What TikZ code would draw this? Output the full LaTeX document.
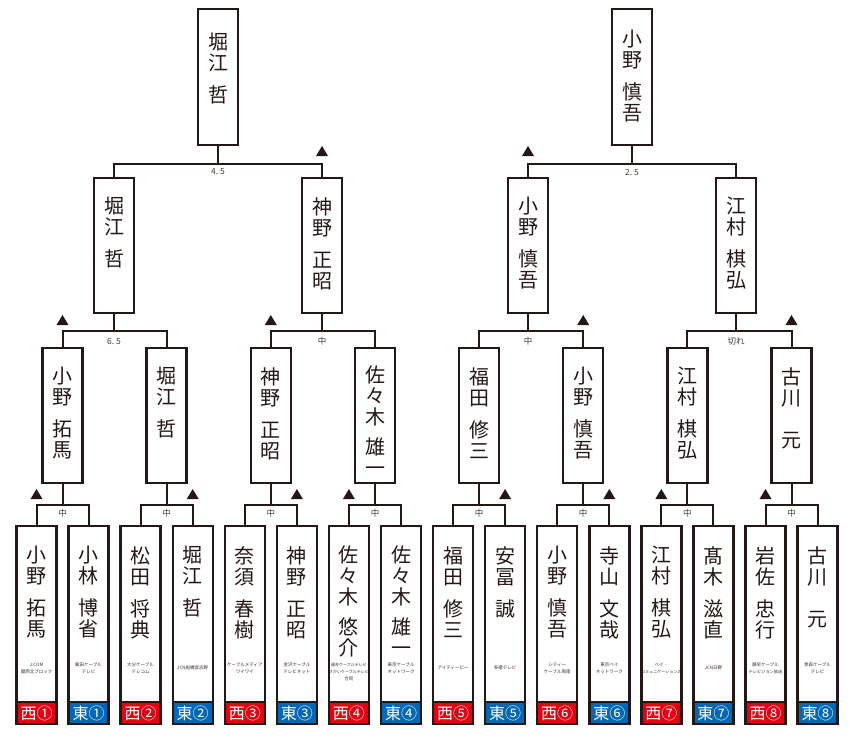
\documentclass[tikz,border=0pt]{standalone}
\usepackage{fontspec}
\setmainfont{Noto Sans CJK JP}
\definecolor{ink}{HTML}{231815}
\definecolor{wred}{HTML}{E60012}
\definecolor{eblue}{HTML}{0068B7}
\newcommand\lbox[6]{%
  \node[nbox, minimum height=#4pt] (#1) at (#2,#3) {};
  \node[nm] (#1n) at ([yshift=-#6pt]#1.north) {#5};
}
\newcommand\bbox[7]{%
  \node[nbox, minimum height=198pt] (#1) at (#2,525) {};
  \node[#5, anchor=south] (#1b) at (#1.south) {#6};
  \node[nm] (#1n) at ([yshift=-21pt]#1.north) {#3};
  \node[aff] (#1a) at (#2,#7) {#4};
}
\newcommand\tri[2]{\fill[ink] (#1-6,#2) -- (#1+6,#2) -- (#1,#2-10) -- cycle;}
\begin{document}
\begin{tikzpicture}[x=1pt,y=-1pt,
  ln/.style={draw=ink, line width=2pt},
  nbox/.style={draw=ink, line width=2.4pt, fill=white, minimum width=40pt, inner sep=0pt, anchor=north},
  nm/.style={font=\fontsize{20}{21}\selectfont, align=center, inner sep=0pt, anchor=north, text=ink},
  res/.style={font=\fontsize{8.5}{9}\selectfont, text=ink!85, inner sep=0pt},
  aff/.style={font=\fontsize{4.5}{7}\selectfont, align=center, inner sep=0pt, text=ink!90},
  westb/.style={fill=wred, draw=ink, line width=2.4pt, minimum width=40pt, minimum height=22pt, inner sep=0pt, text=white, font=\fontsize{16}{16}\selectfont},
  eastb/.style={westb, fill=eblue}
]
\useasboundingbox (0,0) rectangle (850,740);
\fill[white] (0,0) rectangle (850,740);

% ---- top level
\lbox{T1}{218}{8}{136}{堀\\江\\[11pt]哲}{25}
\lbox{T2}{632}{8}{136}{小\\野\\[11pt]慎\\吾}{22}

% ---- level 2
\lbox{A1}{114}{177}{135}{堀\\江\\[11pt]哲}{20}
\lbox{A2}{322}{177}{135}{神\\野\\[11pt]正\\昭}{20}
\lbox{A3}{528}{177}{135}{小\\野\\[11pt]慎\\吾}{20}
\lbox{A4}{736}{177}{135}{江\\村\\[11pt]棋\\弘}{20}

% ---- level 3
\lbox{B1}{62.5}{347}{135}{小\\野\\[11pt]拓\\馬}{20}
\lbox{B2}{166.6}{347}{135}{堀\\江\\[11pt]哲}{20}
\lbox{B3}{270.8}{347}{135}{神\\野\\[11pt]正\\昭}{20}
\lbox{B4}{375}{347}{135}{佐\\々\\木\\[9pt]雄\\一}{19}
\lbox{B5}{479.1}{347}{135}{福\\田\\[11pt]修\\三}{20}
\lbox{B6}{583.2}{347}{135}{小\\野\\[11pt]慎\\吾}{20}
\lbox{B7}{687.4}{347}{135}{江\\村\\[11pt]棋\\弘}{20}
\lbox{B8}{791.5}{347}{135}{古\\川\\[21.5pt]元}{20}

% ---- bottom level
\bbox{C1}{36.5}{小\\野\\[11pt]拓\\馬}{J:COM\\関西北ブロック}{westb}{西①}{668}
\bbox{C2}{88.6}{小\\林\\[11pt]博\\省}{飯田ケーブル\\テレビ}{eastb}{東①}{668}
\bbox{C3}{140.6}{松\\田\\[11pt]将\\典}{大分ケーブル\\テレコム}{westb}{西②}{668}
\bbox{C4}{192.7}{堀\\江\\[11pt]哲}{JCN船橋習志野}{eastb}{東②}{668}
\bbox{C5}{244.8}{奈\\須\\[11pt]春\\樹}{ケーブルメディア\\ワイワイ}{westb}{西③}{668}
\bbox{C6}{296.9}{神\\野\\[11pt]正\\昭}{金沢ケーブル\\テレビネット}{eastb}{東③}{668}
\bbox{C7}{348.9}{佐\\々\\木\\[9pt]悠\\介}{{\fontsize{4}{7}\selectfont 福井ケーブルテレビ}\\{\fontsize{4}{7}\selectfont さかいケーブルテレビ}\\合同}{westb}{西④}{672}
\bbox{C8}{401.0}{佐\\々\\木\\[9pt]雄\\一}{東京ケーブル\\ネットワーク}{eastb}{東④}{668}
\bbox{C9}{453.1}{福\\田\\[11pt]修\\三}{アイティービー}{westb}{西⑤}{668}
\bbox{C10}{505.1}{安\\冨\\[11pt]誠}{多摩テレビ}{eastb}{東⑤}{668}
\bbox{C11}{557.2}{小\\野\\[11pt]慎\\吾}{シティー\\ケーブル周南}{westb}{西⑥}{668}
\bbox{C12}{609.3}{寺\\山\\[11pt]文\\哉}{東京ベイ\\ネットワーク}{eastb}{東⑥}{668}
\bbox{C13}{661.3}{江\\村\\[11pt]棋\\弘}{ベイ・\\{\fontsize{4}{7}\selectfont コミュニケーションズ}}{westb}{西⑦}{668}
\bbox{C14}{713.4}{髙\\木\\[11pt]滋\\直}{JCN日野}{eastb}{東⑦}{668}
\bbox{C15}{765.5}{岩\\佐\\[11pt]忠\\行}{諫早ケーブル\\{\fontsize{4.2}{7}\selectfont テレビジョン放送}}{westb}{西⑧}{668}
\bbox{C16}{817.6}{古\\川\\[21.5pt]元}{青森ケーブル\\テレビ}{eastb}{東⑧}{668}

% ---- connectors
\draw[ln] (T1.south) -- ++(0,18) -| (A1.north);
\draw[ln] (T1.south) -- ++(0,18) -| (A2.north);
\draw[ln] (T2.south) -- ++(0,18) -| (A3.north);
\draw[ln] (T2.south) -- ++(0,18) -| (A4.north);

\draw[ln] (A1.south) -- ++(0,17) -| (B1.north);
\draw[ln] (A1.south) -- ++(0,17) -| (B2.north);
\draw[ln] (A2.south) -- ++(0,17) -| (B3.north);
\draw[ln] (A2.south) -- ++(0,17) -| (B4.north);
\draw[ln] (A3.south) -- ++(0,17) -| (B5.north);
\draw[ln] (A3.south) -- ++(0,17) -| (B6.north);
\draw[ln] (A4.south) -- ++(0,17) -| (B7.north);
\draw[ln] (A4.south) -- ++(0,17) -| (B8.north);

\draw[ln] (B1.south) -- ++(0,21) -| (C1.north);
\draw[ln] (B1.south) -- ++(0,21) -| (C2.north);
\draw[ln] (B2.south) -- ++(0,21) -| (C3.north);
\draw[ln] (B2.south) -- ++(0,21) -| (C4.north);
\draw[ln] (B3.south) -- ++(0,21) -| (C5.north);
\draw[ln] (B3.south) -- ++(0,21) -| (C6.north);
\draw[ln] (B4.south) -- ++(0,21) -| (C7.north);
\draw[ln] (B4.south) -- ++(0,21) -| (C8.north);
\draw[ln] (B5.south) -- ++(0,21) -| (C9.north);
\draw[ln] (B5.south) -- ++(0,21) -| (C10.north);
\draw[ln] (B6.south) -- ++(0,21) -| (C11.north);
\draw[ln] (B6.south) -- ++(0,21) -| (C12.north);
\draw[ln] (B7.south) -- ++(0,21) -| (C13.north);
\draw[ln] (B7.south) -- ++(0,21) -| (C14.north);
\draw[ln] (B8.south) -- ++(0,21) -| (C15.north);
\draw[ln] (B8.south) -- ++(0,21) -| (C16.north);

% ---- results
\node[res] (r1) at (218,172) {4.\hspace{2pt}5};
\node[res] (r2) at (632,172) {2.\hspace{2pt}5};
\node[res] (r3) at (114,341) {6.\hspace{2pt}5};
\node[res] (r4) at (322,341) {中};
\node[res] (r5) at (528,341) {中};
\node[res] (r6) at (736,341) {切れ};
\foreach \n/\x in {r7/62.5,r8/166.6,r9/270.8,r10/375,r11/479.1,r12/583.2,r13/687.4,r14/791.5}
  \node[res] (\n) at (\x,513) {中};

% ---- first-move marks
\tri{322}{156}
\tri{528}{156}
\tri{62.5}{325}
\tri{270.8}{325}
\tri{583.2}{325}
\tri{791.5}{325}
\tri{36.5}{499}
\tri{192.7}{499}
\tri{296.9}{499}
\tri{348.9}{499}
\tri{505.1}{499}
\tri{609.3}{499}
\tri{661.3}{499}
\tri{765.5}{499}
\end{tikzpicture}
\end{document}
